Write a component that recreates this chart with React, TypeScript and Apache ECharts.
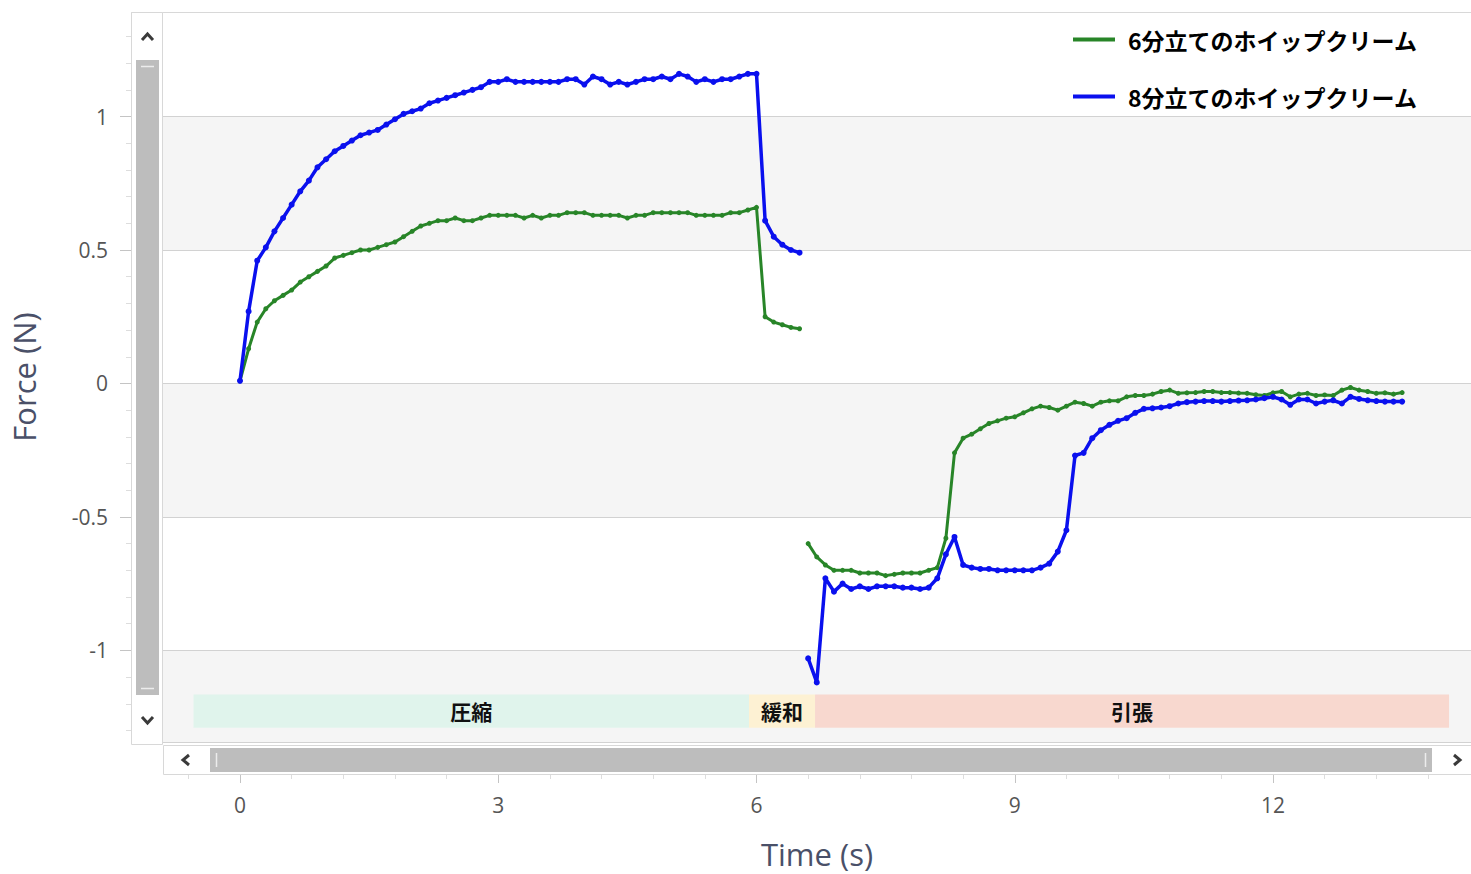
import React, { useEffect, useRef } from "react";
import * as echarts from "echarts";

// ---- sampling (s) ----
const SAMPLE_DT = 0.1;
const compressionStart = 0;
const relaxationStart = 6.1;
const tensionStart = 6.6;

// ---- series names ----
const seriesNames = ["6分立てのホイップクリーム", "8分立てのホイップクリーム"];
const seriesColors = ["#288528", "#0a10ee"];

// ---- 6分立て (green) Force (N) ----
const whip6Compression = [
  0.01, 0.13, 0.23, 0.28, 0.31, 0.33, 0.35, 0.38, 0.4, 0.42,
  0.44, 0.47, 0.48, 0.49, 0.5, 0.5, 0.51, 0.52, 0.53, 0.55,
  0.57, 0.59, 0.6, 0.61, 0.61, 0.62, 0.61, 0.61, 0.62, 0.63,
  0.63, 0.63, 0.63, 0.62, 0.63, 0.62, 0.63, 0.63, 0.64, 0.64,
  0.64, 0.63, 0.63, 0.63, 0.63, 0.62, 0.63, 0.63, 0.64, 0.64,
  0.64, 0.64, 0.64, 0.63, 0.63, 0.63, 0.63, 0.64, 0.64, 0.65,
  0.66,
];
const whip6Relaxation = [0.25, 0.23, 0.22, 0.21, 0.205];
const whip6Tension = [
  -0.6, -0.65, -0.68, -0.7,
  -0.7, -0.7, -0.71, -0.71, -0.71, -0.72, -0.715, -0.71, -0.71, -0.71,
  -0.7, -0.69, -0.58, -0.26, -0.205, -0.19, -0.17, -0.15, -0.14, -0.13,
  -0.125, -0.11, -0.095, -0.085, -0.09, -0.1, -0.085, -0.07, -0.075, -0.085,
  -0.07, -0.065, -0.065, -0.05, -0.045, -0.045, -0.04, -0.03, -0.025, -0.037,
  -0.035, -0.034, -0.03, -0.03, -0.034, -0.034, -0.036, -0.037, -0.042, -0.045,
  -0.035, -0.03, -0.05, -0.04, -0.037, -0.045, -0.043, -0.045, -0.025, -0.015,
  -0.025, -0.03, -0.037, -0.035, -0.04, -0.034,
];

// ---- 8分立て (blue) Force (N) ----
const whip8Compression = [
  0.01, 0.27, 0.46, 0.51, 0.57, 0.62, 0.67, 0.72, 0.76, 0.81,
  0.84, 0.87, 0.89, 0.91, 0.93, 0.94, 0.95, 0.97, 0.99, 1.01,
  1.02, 1.03, 1.05, 1.06, 1.07, 1.08, 1.09, 1.1, 1.11, 1.13,
  1.13, 1.14, 1.13, 1.13, 1.13, 1.13, 1.13, 1.13, 1.14, 1.14,
  1.12, 1.15, 1.14, 1.12, 1.13, 1.12, 1.13, 1.14, 1.14, 1.15,
  1.14, 1.16, 1.15, 1.13, 1.14, 1.13, 1.14, 1.14, 1.15, 1.16,
  1.16,
];
const whip8Relaxation = [0.61, 0.55, 0.52, 0.5, 0.49];
const whip8Tension = [
  -1.03, -1.12, -0.73, -0.78,
  -0.75, -0.77, -0.76, -0.77, -0.76, -0.76, -0.76, -0.765, -0.765, -0.77,
  -0.765, -0.73, -0.64, -0.575, -0.68, -0.69, -0.695, -0.695, -0.7, -0.7,
  -0.7, -0.7, -0.7, -0.69, -0.675, -0.63, -0.55, -0.27, -0.26, -0.205,
  -0.175, -0.155, -0.14, -0.13, -0.11, -0.095, -0.093, -0.09, -0.085, -0.075,
  -0.07, -0.068, -0.066, -0.066, -0.068, -0.066, -0.064, -0.063, -0.06, -0.055,
  -0.05, -0.06, -0.08, -0.06, -0.06, -0.075, -0.068, -0.063, -0.075, -0.05,
  -0.058, -0.063, -0.066, -0.068, -0.068, -0.068,
];

// ---- phase bands ----
const phaseNames = ["圧縮", "緩和", "引張"];
const phaseStart = [-0.54, 5.913, 6.68];
const phaseEnd = [5.913, 6.68, 14.045];
const phaseColors = ["#e0f4ec", "#fdf1d3", "#f8d8cf"];
const phaseBandY = [-1.165, -1.29];

// ---- axes ----
const X_MIN = -0.8945;
const X_MAX = 14.3;
const Y_MIN = -1.3433;
const Y_MAX = 1.3918;
const xMajorTicks = [0, 3, 6, 9, 12];
const xMinorTicks = [-0.6, 0.6, 1.2, 1.8, 2.4, 3.6, 4.2, 4.8, 5.4, 6.6, 7.2, 7.8, 8.4, 9.6, 10.2, 10.8, 11.4, 12.6, 13.2, 13.8];
const yMajorTicks = [-1, -0.5, 0, 0.5, 1];
const yMinorTicks = [
  -1.3, -1.2, -1.1, -0.9, -0.8, -0.7, -0.6, -0.4, -0.3, -0.2, -0.1,
  0.1, 0.2, 0.3, 0.4, 0.6, 0.7, 0.8, 0.9, 1.1, 1.2, 1.3,
];

function toPoints(start: number, values: number[]) {
  return values.map((v, i) => [Number((start + i * SAMPLE_DT).toFixed(2)), v]);
}

function buildSeries(comp: number[], relax: number[], tens: number[]) {
  return [
    ...toPoints(compressionStart, comp),
    ...toPoints(relaxationStart, relax),
    [(relaxationStart + tensionStart) / 2 + 0.2, null],
    ...toPoints(tensionStart, tens),
  ];
}

const green = buildSeries(whip6Compression, whip6Relaxation, whip6Tension);
const blue = buildSeries(whip8Compression, whip8Relaxation, whip8Tension);

const CJK = '"Noto Sans CJK JP", "Noto Sans CJK SC", sans-serif';
const LATIN = '"Open Sans", "Noto Sans", sans-serif';

export default function App() {
  const ref = useRef<HTMLDivElement>(null);
  useEffect(() => {
    document.body.style.margin = "0";
    const chart = echarts.init(ref.current!, null, { renderer: "svg" });
    const chev = (points: number[][]) => ({
      type: "polyline",
      shape: { points },
      style: { stroke: "#3a3a3a", lineWidth: 3, fill: null },
      z: 102,
    });
    const hiddenLine = { show: false, onZero: false };
    const option: any = {
      animation: false,
      backgroundColor: "#ffffff",
      grid: { left: 163, right: 0, top: 12, bottom: 129, containLabel: false },
      legend: {
        orient: "vertical",
        left: 1068,
        top: 23,
        itemGap: 34,
        itemWidth: 42,
        itemHeight: 4,
        icon: "rect",
        selectedMode: false,
        data: seriesNames,
        textStyle: {
          fontFamily: CJK,
          fontWeight: "bold",
          fontSize: 23,
          color: "#000",
          padding: [0, 0, 0, 8],
        },
      },
      xAxis: [
        {
          type: "value",
          min: X_MIN,
          max: X_MAX,
          position: "bottom",
          offset: 30,
          axisLine: hiddenLine,
          axisTick: { show: true, customValues: xMajorTicks, length: 11, lineStyle: { color: "#c4c4c4" } },
          axisLabel: {
            customValues: xMajorTicks,
            margin: 22,
            fontFamily: LATIN,
            fontSize: 21,
            color: "#555",
          },
          splitLine: { show: false },
          name: "Time (s)",
          nameLocation: "middle",
          nameGap: 66,
          nameTextStyle: { fontFamily: LATIN, fontSize: 31, color: "#4a5068" },
        },
        {
          type: "value",
          min: X_MIN,
          max: X_MAX,
          position: "bottom",
          offset: 30,
          axisLine: hiddenLine,
          axisTick: { show: true, customValues: xMinorTicks, length: 7, lineStyle: { color: "#dddddd" } },
          axisLabel: { show: false },
          splitLine: { show: false },
        },
      ],
      yAxis: [
        {
          type: "value",
          min: Y_MIN,
          max: Y_MAX,
          splitNumber: 5,
          position: "left",
          offset: 32,
          axisLine: hiddenLine,
          axisTick: { show: false },
          axisLabel: {
            showMinLabel: false,
            showMaxLabel: false,
            margin: 23,
            fontFamily: LATIN,
            fontSize: 21,
            color: "#555",
          },
          splitLine: { show: true, lineStyle: { color: "#d2d2d2", width: 1 } },
          splitArea: { show: true, areaStyle: { color: ["#f5f5f5", "#ffffff"] } },
          name: "Force (N)",
          nameLocation: "middle",
          nameGap: 92,
          nameTextStyle: { fontFamily: LATIN, fontSize: 31, color: "#4a5068" },
        },
        {
          type: "value",
          min: Y_MIN,
          max: Y_MAX,
          position: "left",
          offset: 32,
          axisLine: hiddenLine,
          axisTick: { show: true, customValues: yMajorTicks, length: 11, lineStyle: { color: "#c4c4c4" } },
          axisLabel: { show: false },
          splitLine: { show: false },
        },
        {
          type: "value",
          min: Y_MIN,
          max: Y_MAX,
          position: "left",
          offset: 32,
          axisLine: hiddenLine,
          axisTick: { show: true, customValues: yMinorTicks, length: 5, lineStyle: { color: "#dddddd" } },
          axisLabel: { show: false },
          splitLine: { show: false },
        },
      ],
      series: [
        {
          name: seriesNames[0],
          type: "line",
          xAxisIndex: 0,
          yAxisIndex: 0,
          data: green,
          color: seriesColors[0],
          symbol: "circle",
          symbolSize: 5,
          showSymbol: true,
          connectNulls: false,
          lineStyle: { width: 3, color: seriesColors[0] },
          itemStyle: { color: seriesColors[0] },
          z: 3,
          markArea: {
            silent: true,
            label: {
              show: true,
              position: "inside",
              color: "#111",
              fontFamily: CJK,
              fontWeight: "bold",
              fontSize: 21,
            },
            data: phaseNames.map((n, i) => [
              { name: n, xAxis: phaseStart[i], yAxis: phaseBandY[0], itemStyle: { color: phaseColors[i], opacity: 1 } },
              { xAxis: phaseEnd[i], yAxis: phaseBandY[1] },
            ]),
          },
        },
        {
          name: seriesNames[1],
          type: "line",
          xAxisIndex: 0,
          yAxisIndex: 0,
          data: blue,
          color: seriesColors[1],
          symbol: "circle",
          symbolSize: 6,
          showSymbol: true,
          connectNulls: false,
          lineStyle: { width: 3.5, color: seriesColors[1] },
          itemStyle: { color: seriesColors[1] },
          z: 4,
        },
      ],
      graphic: [
        { type: "line", shape: { x1: 131, y1: 12.5, x2: 1471, y2: 12.5 }, style: { stroke: "#d8d8d8", lineWidth: 1 }, z: 100 },
        { type: "rect", shape: { x: 131.5, y: 12.5, width: 31, height: 732 }, style: { fill: "#ffffff", stroke: "#d8d8d8", lineWidth: 1 }, z: 100 },
        { type: "rect", shape: { x: 136, y: 60, width: 23, height: 635 }, style: { fill: "#bdbdbd" }, z: 101 },
        { type: "line", shape: { x1: 141, y1: 66.5, x2: 154, y2: 66.5 }, style: { stroke: "#ececec", lineWidth: 1.5 }, z: 102 },
        { type: "line", shape: { x1: 141, y1: 688.5, x2: 154, y2: 688.5 }, style: { stroke: "#ececec", lineWidth: 1.5 }, z: 102 },
        chev([[142, 40], [147.5, 34], [153, 40]]),
        chev([[142, 717], [147.5, 723], [153, 717]]),
        { type: "rect", shape: { x: 163.5, y: 745.5, width: 1308, height: 29 }, style: { fill: "#ffffff", stroke: "#d8d8d8", lineWidth: 1 }, z: 100 },
        { type: "rect", shape: { x: 210, y: 748, width: 1222, height: 24 }, style: { fill: "#bdbdbd" }, z: 101 },
        { type: "line", shape: { x1: 216.5, y1: 753, x2: 216.5, y2: 767 }, style: { stroke: "#ececec", lineWidth: 1.5 }, z: 102 },
        { type: "line", shape: { x1: 1425.5, y1: 753, x2: 1425.5, y2: 767 }, style: { stroke: "#ececec", lineWidth: 1.5 }, z: 102 },
        chev([[189, 755], [183, 760], [189, 765]]),
        chev([[1454, 755], [1460, 760], [1454, 765]]),
      ],
    };
    chart.setOption(option);
    return () => chart.dispose();
  }, []);
  return <div ref={ref} style={{ width: 1471, height: 874 }} />;
}
